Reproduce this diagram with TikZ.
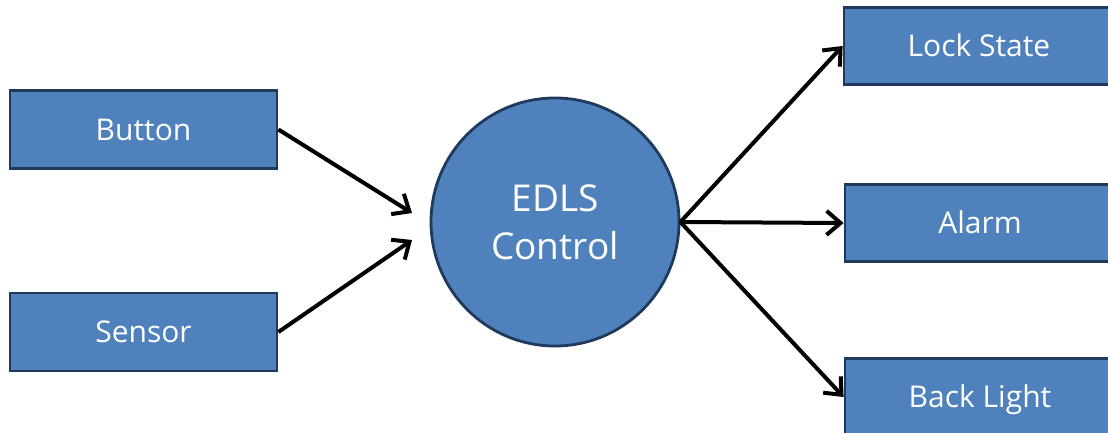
\documentclass[tikz,border=0pt]{standalone}
\usepackage{fontspec}
\setmainfont{Open Sans}
\usetikzlibrary{arrows.meta}
\definecolor{boxblue}{HTML}{4F81BD}
\definecolor{boxline}{HTML}{1F3A5C}
\tikzset{
    block/.style={draw=boxline, line width=2.8pt, fill=boxblue, text=white,
        minimum width=267pt, minimum height=78pt, inner sep=0pt,
        text height=21.5pt, text depth=0pt, font=\fontsize{30}{36}\selectfont},
    hub/.style={circle, draw=boxline, line width=2.8pt, fill=boxblue, text=white,
        minimum size=248pt, inner sep=0pt, align=center, font=\fontsize{37}{48}\selectfont},
    flow/.style={line width=4pt, -{Straight Barb[length=14pt, width=24pt, line width=4pt]}}
}
\begin{document}
\begin{tikzpicture}[x=1pt, y=-1pt]
    \useasboundingbox (0,0) rectangle (1108,433);
    \node[block] (button) at (143.5,129.5) {Button};
    \node[block] (sensor) at (143.5,332) {Sensor};
    \node[hub] (ctrl) at (555,222) {EDLS\\Control};
    \node[block, minimum width=270pt, minimum height=77pt] (lock) at (979,46) {Lock State};
    \node[block, minimum width=270pt, minimum height=77pt] (alarm) at (980,223) {Alarm};
    \node[block, minimum width=270pt, minimum height=77pt] (light) at (980,397) {Back Light};
    \coordinate (inA) at (412,213);
    \coordinate (inB) at (412,240);
    \draw[flow] (button.east) -- (inA);
    \draw[flow] (sensor.east) -- (inB);
    \draw[flow] (ctrl.east) -- (lock.west);
    \draw[flow] (ctrl.east) -- (alarm.west);
    \draw[flow] (ctrl.east) -- (light.west);
\end{tikzpicture}
\end{document}
